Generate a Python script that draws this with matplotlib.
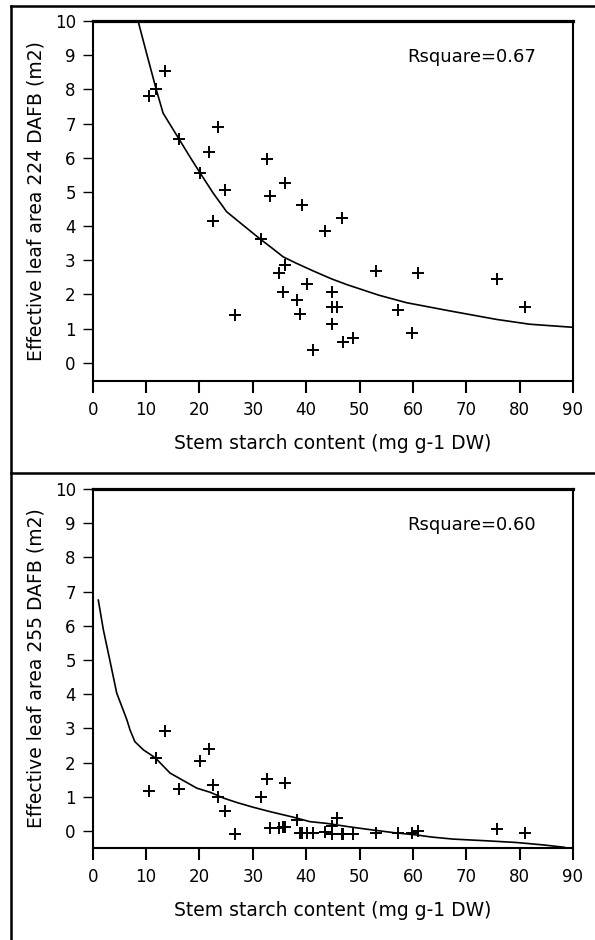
import matplotlib
matplotlib.use("Agg")
import matplotlib.pyplot as plt
from matplotlib.lines import Line2D

# Stem starch content (mg g-1 DW), same plants in both panels
starch = [10.6, 11.9, 13.5, 16.2, 20.1, 21.7, 22.5, 23.5, 24.8, 26.6,
          31.5, 32.6, 33.3, 34.9, 35.6, 36.0, 36.0, 38.2, 38.9, 39.3,
          40.1, 41.2, 43.5, 44.9, 44.9, 45.8, 44.9, 46.8, 46.9, 48.7,
          53.1, 57.2, 59.9, 61.0, 75.7, 81.0]

# Effective leaf area at 224 DAFB (m2)
leaf_224 = [7.81, 8.00, 8.54, 6.54, 5.56, 6.18, 4.16, 6.89, 5.07, 1.40,
            3.61, 5.95, 4.89, 2.62, 2.08, 2.86, 5.25, 1.85, 1.44, 4.62,
            2.32, 0.38, 3.85, 2.08, 1.64, 1.64, 1.15, 4.25, 0.62, 0.74,
            2.68, 1.56, 0.86, 2.62, 2.44, 1.62]

# Effective leaf area at 255 DAFB (m2)
leaf_255 = [1.17, 2.14, 2.91, 1.23, 2.03, 2.39, 1.35, 1.00, 0.57, -0.08,
            1.00, 1.51, 0.08, 0.08, 0.10, 1.40, 0.10, 0.31, -0.05, -0.05,
            -0.05, -0.05, -0.02, 0.15, -0.08, 0.37, -0.08, -0.08, -0.08, -0.08,
            -0.05, -0.06, -0.05, 0.00, 0.05, -0.05]

# fitted curves
fit_224_x = [8.5, 10.1, 11.9, 13.2, 16.2, 18.2, 20.1, 22.6, 25.1, 28.0,
             31.4, 33.5, 35.7, 38.2, 41.3, 44.7, 47.6, 50.7, 53.6, 58.8,
             66.9, 75.7, 81.9, 90.0]
fit_224_y = [10.0, 9.05, 8.0, 7.3, 6.54, 6.03, 5.56, 4.96, 4.42, 4.05,
             3.62, 3.37, 3.10, 2.91, 2.69, 2.46, 2.29, 2.13, 1.98, 1.76,
             1.52, 1.27, 1.13, 1.04]

fit_255_x = [1.05, 2.0, 3.2, 4.5, 6.4, 7.0, 7.9, 9.5, 11.7, 14.5,
             17.0, 19.5, 22.0, 24.5, 27.0, 30.1, 33.3, 37.6, 40.7, 43.8,
             47.6, 51.3, 56.3, 60.7, 63.5, 67.5, 73.8, 79.4, 84.4, 88.4]
fit_255_y = [6.75, 5.88, 5.0, 4.03, 3.25, 2.95, 2.61, 2.37, 2.14, 1.69,
             1.47, 1.25, 1.13, 0.96, 0.83, 0.69, 0.56, 0.40, 0.27, 0.22,
             0.13, 0.05, -0.05, -0.12, -0.18, -0.24, -0.29, -0.34, -0.41, -0.48]

x_ticks = [0, 10, 20, 30, 40, 50, 60, 70, 80, 90]
y_ticks = [0, 1, 2, 3, 4, 5, 6, 7, 8, 9, 10]

panels = [
    (leaf_224, fit_224_x, fit_224_y, "Effective leaf area 224 DAFB (m2)", "Rsquare=0.67", -0.53),
    (leaf_255, fit_255_x, fit_255_y, "Effective leaf area 255 DAFB (m2)", "Rsquare=0.60", -0.50),
]

plt.rcParams['font.family'] = ['DejaVu Sans']

fig = plt.figure(figsize=(5.95, 9.4), dpi=100)
ax_top = fig.add_axes([0.1558, 0.5947, 0.8072, 0.383])
ax_bot = fig.add_axes([0.1558, 0.0979, 0.8072, 0.3819])

for ax, (leaf, fx, fy, ylab, rtxt, ymin) in zip([ax_top, ax_bot], panels):
    ax.plot(starch, leaf, linestyle='none', marker='+', color='black',
            markersize=8, markeredgewidth=1.4)
    ax.plot(fx, fy, color='black', linewidth=1.2)

    ax.set_xlim(0, 90)
    ax.set_ylim(ymin, 10)
    ax.set_xticks(x_ticks)
    ax.set_yticks(y_ticks)

    ax.set_xlabel("Stem starch content (mg g-1 DW)", fontsize=13.5)
    ax.set_ylabel(ylab, fontsize=13.5)
    ax.xaxis.set_label_coords(0.5, -0.147)
    ax.yaxis.set_label_coords(-0.099, 0.5)

    ax.text(58.9, 8.95, rtxt, fontsize=13, ha='left', va='center')

    ax.tick_params(axis='x', direction='out', length=8.6, width=1.5,
                   pad=6, labelsize=12)
    ax.tick_params(axis='y', direction='out', length=7.2, width=1.0,
                   pad=5, labelsize=12)

    for side in ['left', 'bottom', 'right']:
        ax.spines[side].set_linewidth(1.5)
    ax.spines['top'].set_linewidth(2.3)

# outer frame lines of the original figure
fig.add_artist(Line2D([11 / 595, 1.0], [1 - 5.5 / 940, 1 - 5.5 / 940],
                      transform=fig.transFigure, color='black', linewidth=1.8))
fig.add_artist(Line2D([11 / 595, 11 / 595], [0.0, 1 - 5.5 / 940],
                      transform=fig.transFigure, color='black', linewidth=1.8))
fig.add_artist(Line2D([11 / 595, 1.0], [1 - 473 / 940, 1 - 473 / 940],
                      transform=fig.transFigure, color='black', linewidth=1.8))

fig.savefig("out.png", dpi=100)
